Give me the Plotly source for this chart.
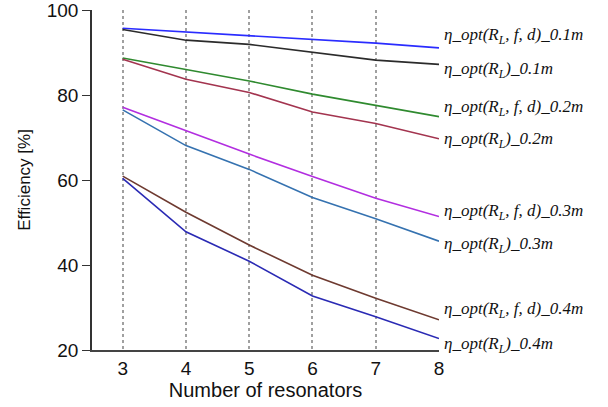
import plotly.graph_objects as go

# Number of resonators on the x axis
resonators = [3, 4, 5, 6, 7, 8]

# Efficiency [%] for each configuration
eff_fd_01 = [95.7, 94.8, 94.0, 93.1, 92.2, 91.1]
eff_rl_01 = [95.4, 92.9, 91.9, 90.0, 88.2, 87.2]
eff_fd_02 = [88.7, 86.0, 83.3, 80.2, 77.5, 74.9]
eff_rl_02 = [88.4, 83.7, 80.6, 76.0, 73.3, 69.7]
eff_fd_03 = [77.1, 71.6, 66.1, 60.8, 55.7, 51.4]
eff_rl_03 = [76.5, 68.1, 62.5, 55.9, 50.9, 45.6]
eff_fd_04 = [60.9, 52.4, 44.7, 37.6, 32.2, 27.1]
eff_rl_04 = [60.4, 47.8, 40.9, 32.7, 27.8, 22.7]

series_values = [eff_fd_01, eff_rl_01, eff_fd_02, eff_rl_02,
                 eff_fd_03, eff_rl_03, eff_fd_04, eff_rl_04]
series_labels = [
    "η_opt(R<sub>L</sub>, f, d)_0.1m",
    "η_opt(R<sub>L</sub>)_0.1m",
    "η_opt(R<sub>L</sub>, f, d)_0.2m",
    "η_opt(R<sub>L</sub>)_0.2m",
    "η_opt(R<sub>L</sub>, f, d)_0.3m",
    "η_opt(R<sub>L</sub>)_0.3m",
    "η_opt(R<sub>L</sub>, f, d)_0.4m",
    "η_opt(R<sub>L</sub>)_0.4m",
]
# vertical placement of the right-hand labels (in % units)
label_y = [93.9, 85.9, 76.9, 69.4, 52.5, 44.7, 29.4, 21.2]
series_colors = ["#2a2cff", "#2b2b2b", "#2f8a2f", "#a3344f",
                 "#b22ee0", "#3572b0", "#6e3a30", "#2a2ab4"]

y_ticks = [20, 40, 60, 80, 100]

fig = go.Figure()

for vals, color in zip(series_values, series_colors):
    fig.add_trace(go.Scatter(
        x=resonators, y=vals, mode="lines",
        line=dict(color=color, width=1.6),
        showlegend=False, hoverinfo="skip",
    ))

for text, ly in zip(series_labels, label_y):
    fig.add_annotation(
        xref="paper", x=1.0, xanchor="left", xshift=3,
        yref="y", y=ly, yanchor="middle",
        text="<i>" + text + "</i>", showarrow=False,
        font=dict(family="Liberation Serif", size=17, color="#111111"),
    )

fig.update_layout(
    width=608, height=407,
    margin=dict(l=92, r=169, t=10, b=57, autoexpand=False),
    paper_bgcolor="white", plot_bgcolor="white",
    font=dict(family="Liberation Sans, Arial", color="#111111"),
    xaxis=dict(
        range=[2.515, 8], tickvals=resonators,
        tickfont=dict(size=19), automargin=False,
        showgrid=True, gridcolor="#a0a0a0", griddash="dot", gridwidth=1.5,
        showline=True, linecolor="#444444", linewidth=1.6,
        ticks="", zeroline=False,
        title=dict(text="Number of resonators", font=dict(size=20), standoff=2),
    ),
    yaxis=dict(
        range=[20, 100], tickvals=y_ticks,
        tickfont=dict(size=19), ticklabeloverflow="allow", automargin=False,
        showgrid=False, zeroline=False,
        showline=True, linecolor="#333333", linewidth=1.6,
        ticks="outside", ticklen=8, tickwidth=1.4, tickcolor="#333333",
        title=dict(text="Efficiency [%]", font=dict(size=17), standoff=12),
    ),
)

fig.write_html("out.html")
